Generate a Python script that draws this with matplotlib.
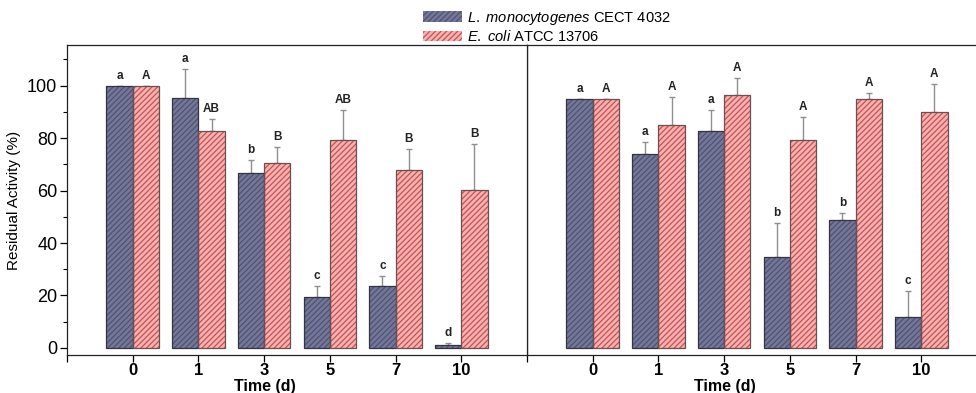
import matplotlib
matplotlib.use("Agg")
import matplotlib.pyplot as plt
import numpy as np
from matplotlib.patches import Patch

plt.rcParams['font.family'] = ['Liberation Sans', 'DejaVu Sans']
plt.rcParams['mathtext.fontset'] = 'custom'
plt.rcParams['mathtext.rm'] = 'Liberation Sans'
plt.rcParams['mathtext.it'] = 'Liberation Sans:italic'
plt.rcParams['hatch.linewidth'] = 0.9

days = ["0", "1", "3", "5", "7", "10"]
series_names = [r"$\it{L.\ monocytogenes}$ CECT 4032", r"$\it{E.\ coli}$ ATCC 13706"]

# Left panel
left_listeria = [100, 95.2, 66.7, 19.5, 23.5, 1.0]
left_listeria_err = [0, 11.0, 5.0, 4.0, 4.0, 1.0]
left_listeria_letters = ["a", "a", "b", "c", "c", "d"]
left_ecoli = [100, 82.6, 70.5, 79.1, 67.8, 60.3]
left_ecoli_err = [0, 4.8, 6.0, 11.7, 8.0, 17.5]
left_ecoli_letters = ["A", "AB", "B", "AB", "B", "B"]

# Right panel
right_listeria = [94.8, 73.9, 82.6, 34.5, 48.9, 11.8]
right_listeria_err = [0, 4.5, 8.0, 13.0, 2.5, 9.8]
right_listeria_letters = ["a", "a", "a", "b", "b", "c"]
right_ecoli = [94.8, 85.1, 96.6, 79.1, 94.8, 90.1]
right_ecoli_err = [0, 10.5, 6.5, 9.0, 2.5, 10.7]
right_ecoli_letters = ["A", "A", "A", "A", "A", "A"]

blue_face = "#75779a"
blue_hatch = "#50526f"
red_face = "#efb4b4"
red_hatch = "#d84a4c"
blue_edge = "#33343f"
red_edge = "#6a5050"

W, H = 976, 393
fig = plt.figure(figsize=(W / 100, H / 100), dpi=100)
ax_l = fig.add_axes([67 / W, (H - 355) / H, 460 / W, 310 / H])
ax_r = fig.add_axes([527 / W, (H - 355) / H, 460 / W, 310 / H])

width = 0.4
x = np.arange(1, len(days) + 1)


def draw_bars(ax, vals, errs, letters, offset, face, hatch_col, edge_col):
    xs = x + offset
    ax.bar(xs, vals, width, color=face, edgecolor=hatch_col, hatch="//////",
           linewidth=0, zorder=2)
    ax.bar(xs, vals, width, fill=False, edgecolor=edge_col, linewidth=0.9, zorder=3)
    ax.errorbar(xs, vals, yerr=[np.zeros(len(vals)), errs], fmt="none",
                ecolor="#8f8f8f", elinewidth=1.0, capsize=2.5, capthick=1.0, zorder=1)
    for xi, v, e, t in zip(xs, vals, errs, letters):
        ax.text(xi, v + e + 1.5, t, ha="center", va="bottom", fontsize=8.5,
                fontweight="bold", color="#222222")


for ax, (bl, ble, bll, rd, rde, rdl) in [
    (ax_l, (left_listeria, left_listeria_err, left_listeria_letters,
            left_ecoli, left_ecoli_err, left_ecoli_letters)),
    (ax_r, (right_listeria, right_listeria_err, right_listeria_letters,
            right_ecoli, right_ecoli_err, right_ecoli_letters)),
]:
    draw_bars(ax, bl, ble, bll, -width / 2, blue_face, blue_hatch, blue_edge)
    draw_bars(ax, rd, rde, rdl, width / 2, red_face, red_hatch, red_edge)
    ax.set_xlim(0, 7)
    ax.set_ylim(-2.7, 115.5)
    ax.set_xticks(np.concatenate([[0], x]))
    ax.set_xticklabels([""] + days, fontsize=12, fontweight="bold")
    ax.tick_params(axis="x", direction="out", length=5, width=0.9, pad=1)
    ax.set_xlabel("Time (d)", fontsize=11.5, fontweight="bold", labelpad=0)
    ax.xaxis.set_label_coords(0.43, -0.078)
    for s in ax.spines.values():
        s.set_linewidth(0.9)
        s.set_color("#222222")

ax_l.set_yticks([0, 20, 40, 60, 80, 100])
ax_l.set_yticks(np.arange(10, 111, 20), minor=True)
ax_l.tick_params(axis="y", which="major", direction="out", length=5, width=0.9,
                 labelsize=13, pad=2)
ax_l.tick_params(axis="y", which="minor", direction="out", length=3, width=0.8)
ax_l.set_ylabel("Residual Activity (%)", fontsize=11, labelpad=4)
ax_l.set_zorder(2)

ax_r.set_yticks([])
ax_r.spines["right"].set_visible(False)

handles = [Patch(facecolor=blue_face, edgecolor=blue_hatch, hatch="//////", linewidth=0),
           Patch(facecolor=red_face, edgecolor=red_hatch, hatch="//////", linewidth=0)]
fig.legend(handles, series_names, loc="upper left", bbox_to_anchor=(420 / W, 1 - 7 / H),
           frameon=False, fontsize=10.5, handlelength=2.7, handleheight=0.75,
           labelspacing=0.15, handletextpad=0.3, borderaxespad=0, borderpad=0.2)

fig.savefig("out.png", dpi=100)
